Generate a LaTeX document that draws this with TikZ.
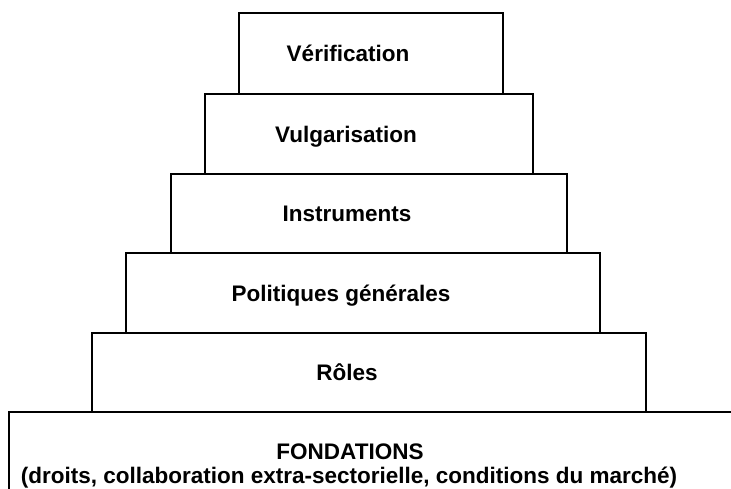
\documentclass[tikz,border=0pt]{standalone}
\usepackage{fontspec}
\setmainfont{Liberation Sans}
\begin{document}
\begin{tikzpicture}[x=1pt,y=-1pt,
    tier/.style={draw=black, line width=1.7pt, inner sep=0pt},
    tiertext/.style={font=\bfseries\fontsize{22.5}{26}\selectfont, inner sep=0pt, anchor=base}]
  \useasboundingbox (0,0) rectangle (731,489);
  \clip (0,0) rectangle (731,489);
  % steps, from the base up
  \node[tier, minimum width=751pt, minimum height=108pt] (base) at (384.5,466) {};
  \node[tier, minimum width=554pt, minimum height=79pt] (roles) at (369,372.5) {};
  \node[tier, minimum width=474pt, minimum height=80pt] (polit) at (363,293) {};
  \node[tier, minimum width=396pt, minimum height=79pt] (instr) at (369,213.5) {};
  \node[tier, minimum width=328pt, minimum height=80pt] (vulg) at (369,134) {};
  \node[tier, minimum width=264pt, minimum height=81pt] (verif) at (371,53.5) {};
  % labels
  \node[tiertext] (verifT) at (348,62) {Vérification};
  \node[tiertext] (vulgT) at (346,142.5) {Vulgarisation};
  \node[tiertext] (instrT) at (347,221.5) {Instruments};
  \node[tiertext] (politT) at (341,301.5) {Politiques générales};
  \node[tiertext] (rolesT) at (347,380) {Rôles};
  \node[tiertext] (baseT) at (350,459) {FONDATIONS};
  \node[tiertext] (baseT2) at (349,483) {(droits, collaboration extra-sectorielle, conditions du marché)};
\end{tikzpicture}
\end{document}
